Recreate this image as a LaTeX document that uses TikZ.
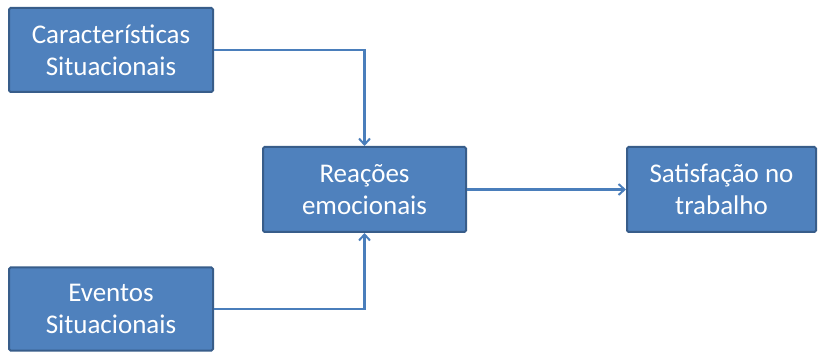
\documentclass[tikz,border=0pt]{standalone}
\usepackage{fontspec}
\setmainfont{Carlito}
\usetikzlibrary{arrows.meta}
\definecolor{boxfill}{HTML}{4F81BD}
\definecolor{boxline}{HTML}{385D8A}
\definecolor{linkcol}{HTML}{4A7EBB}
\tikzset{
  box/.style={draw=boxline, line width=2pt, fill=boxfill, rounded corners=1.5pt,
    text=white, align=center, inner sep=0pt,
    font=\fontsize{27}{32}\selectfont},
  link/.style={draw=linkcol, line width=2.2pt, -{Straight Barb[length=6pt,width=11pt,line width=2pt]}}
}
\begin{document}
\begin{tikzpicture}[x=1pt,y=-1pt]
\useasboundingbox (0,0) rectangle (818,352);
\node[box, minimum width=204pt, minimum height=84pt] (c) at (111,50) {Características\\Situacionais};
\node[box, minimum width=204pt, minimum height=83pt] (e) at (111,309) {Eventos\\Situacionais};
\node[box, minimum width=203pt, minimum height=85pt] (r) at (364.5,189.5) {Reações\\emocionais};
\node[box, minimum width=189pt, minimum height=85pt] (s) at (721.5,189.5) {Satisfação no\\trabalho};
\draw[link] (c.east) -| (r.north);
\draw[link] (e.east) -| (r.south);
\draw[link] (r.east) -- (s.west);
\end{tikzpicture}
\end{document}
